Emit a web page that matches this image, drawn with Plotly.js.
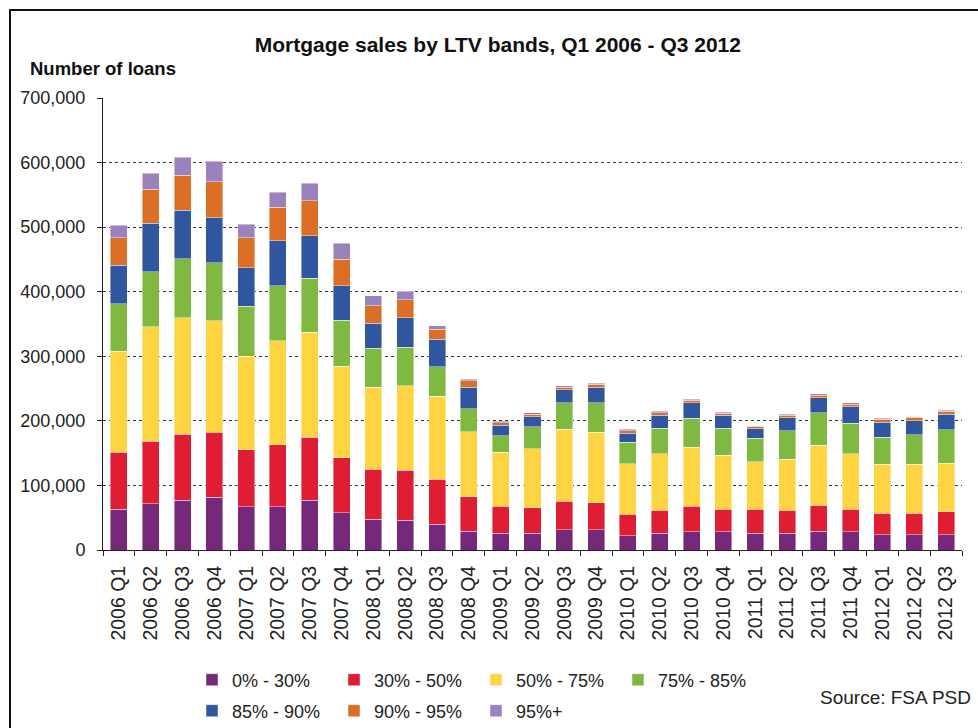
<!DOCTYPE html>
<html>
<head>
<meta charset="utf-8">
<script src="https://cdn.plot.ly/plotly-3.0.1.min.js"></script>
<style>
  html, body { margin: 0; padding: 0; background: #fff; overflow: hidden; }
  #wrap { position: relative; width: 978px; height: 728px; }
  #chart { width: 978px; height: 728px; }
  #frame { position: absolute; left: 9px; top: 9px; width: 1200px; height: 1200px;
           border: 2px solid #111; pointer-events: none; box-sizing: border-box; }
</style>
</head>
<body>
<div id="wrap">
  <div id="chart"></div>
  <div id="frame"></div>
</div>
<script>
const quarters = ["2006 Q1","2006 Q2","2006 Q3","2006 Q4","2007 Q1","2007 Q2","2007 Q3","2007 Q4",
  "2008 Q1","2008 Q2","2008 Q3","2008 Q4","2009 Q1","2009 Q2","2009 Q3","2009 Q4",
  "2010 Q1","2010 Q2","2010 Q3","2010 Q4","2011 Q1","2011 Q2","2011 Q3","2011 Q4",
  "2012 Q1","2012 Q2","2012 Q3"];

const ltv0_30  = [63500,71800,77400,81600,67100,67100,77400,57800,48000,45900,39700,29400,25800,25800,31500,31500,22200,26300,27900,27900,25800,25800,29400,27900,23700,23700,23700];
const ltv30_50 = [87700,97000,101700,101100,87800,96000,97600,85200,77400,77500,69700,52700,41800,39800,43900,41800,33500,35100,39700,35600,37700,35600,39800,35600,33600,33600,35700];
const ltv50_75 = [156500,177000,180200,172500,145000,160600,162600,141400,127000,131100,129100,101200,83600,91300,111500,109400,77500,87300,91400,83600,73300,79500,93400,85200,75400,75400,75300];
const ltv75_85 = [73800,85300,91900,89800,77500,85600,83600,71300,59900,59400,45400,35100,25900,33600,41300,45500,33500,39700,45400,41300,36100,43900,49600,47500,41800,45900,51700];
const ltv85_90 = [59300,75300,75300,69700,59800,69700,65600,53700,39200,45900,42300,34000,16000,16000,20100,23700,14500,20100,23800,20100,14500,20100,23700,25800,23700,21700,24200];
const ltv90_95 = [42400,52100,53700,55700,46000,51700,53700,41200,26400,27900,15500,9800,4100,4100,4100,4700,3600,4200,4100,3100,3100,3600,4100,4100,4200,5200,4100];
const ltv95    = [19600,25300,27900,31500,21600,23200,27300,24300,15500,13400,5700,2600,2100,2100,2100,1500,2100,2000,1500,2100,1000,2100,2100,2100,1500,1000,2100];

const seriesNames = ["0% - 30%","30% - 50%","50% - 75%","75% - 85%","85% - 90%","90% - 95%","95%+"];
const seriesValues = [ltv0_30, ltv30_50, ltv50_75, ltv75_85, ltv85_90, ltv90_95, ltv95];
const seriesColors = ["#76287B","#DF1D33","#FFD442","#80B942","#3056A0","#DC6E26","#9B82BC"];
const seriesLegend = ["legend","legend","legend","legend","legend2","legend2","legend2"];

const traces = seriesNames.map((name, i) => ({
  type: "bar",
  name: name,
  x: quarters,
  y: seriesValues[i],
  marker: { color: seriesColors[i], line: { color: "rgba(255,255,255,0.7)", width: 0.6 } },
  legend: seriesLegend[i]
}));

const FONT = "Liberation Sans, Arial, sans-serif";

const layout = {
  width: 978, height: 728,
  margin: { l: 103, r: 16, t: 98, b: 178 },
  paper_bgcolor: "#fff", plot_bgcolor: "#fff",
  barmode: "stack",
  bargap: 0.465,
  font: { family: FONT, color: "#222", size: 18 },
  title: {
    text: "<b>Mortgage sales by LTV bands, Q1 2006 - Q3 2012</b>",
    font: { family: FONT, size: 21, color: "#111" },
    xref: "container", yref: "container",
    x: 0.509, y: 1 - 45/728, xanchor: "center", yanchor: "middle"
  },
  xaxis: {
    type: "category",
    automargin: false,
    tickangle: -90,
    tickson: "boundaries",
    ticks: "outside", ticklen: 5, tickcolor: "#222", tickwidth: 1,
    ticklabelstandoff: 7,
    showline: true, linecolor: "#222", linewidth: 1,
    showgrid: false,
    tickfont: { family: FONT, size: 19.5, color: "#222" }
  },
  yaxis: {
    automargin: false,
    range: [0, 700000],
    tickvals: [0,100000,200000,300000,400000,500000,600000,700000],
    tickformat: ",d",
    ticks: "outside", ticklen: 5, tickcolor: "#222", tickwidth: 1,
    ticklabelstandoff: 8,
    showline: true, linecolor: "#222", linewidth: 1,
    showgrid: true, gridcolor: "#333", gridwidth: 1, griddash: "dot",
    zeroline: false,
    tickfont: { family: FONT, size: 18, color: "#222" }
  },
  legend: {
    orientation: "h", xref: "container", yref: "container",
    x: 192/978, xanchor: "left", y: 1 - 680/728, yanchor: "middle",
    entrywidth: 97, traceorder: "normal",
    font: { family: FONT, size: 18, color: "#222" },
    bgcolor: "rgba(0,0,0,0)"
  },
  legend2: {
    orientation: "h", xref: "container", yref: "container",
    x: 192/978, xanchor: "left", y: 1 - 711/728, yanchor: "middle",
    entrywidth: 97, traceorder: "normal",
    font: { family: FONT, size: 18, color: "#222" },
    bgcolor: "rgba(0,0,0,0)"
  },
  showlegend: true,
  annotations: [
    { text: "<b>Number of loans</b>", xref: "paper", yref: "paper",
      x: (28-103)/859, y: (550-68)/452, xanchor: "left", yanchor: "middle",
      showarrow: false, font: { family: FONT, size: 18.5, color: "#111" } },
    { text: "Source: FSA PSD", xref: "paper", yref: "paper",
      x: (973-103)/859, y: (550-697)/452, xanchor: "right", yanchor: "middle",
      showarrow: false, font: { family: FONT, size: 19, color: "#222" } }
  ]
};

Plotly.newPlot("chart", traces, layout, { displayModeBar: false, staticPlot: true });
</script>
</body>
</html>
